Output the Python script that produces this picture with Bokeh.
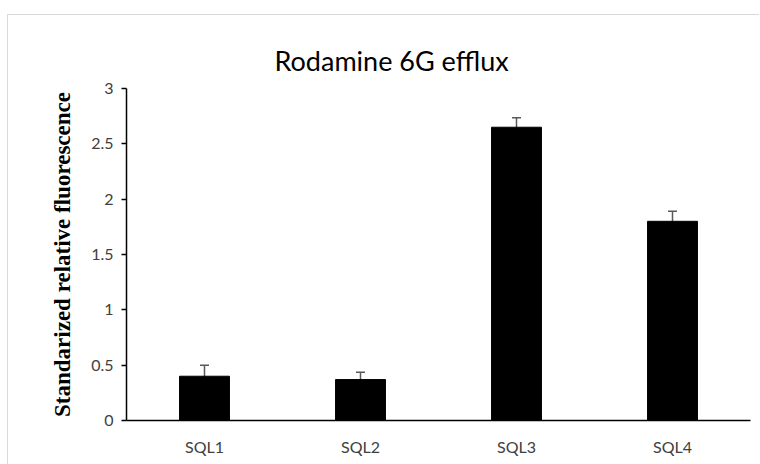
from bokeh.plotting import figure
from bokeh.models import ColumnDataSource, Whisker, FactorRange, Range1d, FixedTicker, Title
from bokeh.embed import file_html
from bokeh.resources import INLINE

categories = ["SQL1", "SQL2", "SQL3", "SQL4"]
values = [0.40, 0.37, 2.65, 1.80]
errors = [0.10, 0.065, 0.085, 0.09]
y_ticks = [0, 0.5, 1, 1.5, 2, 2.5, 3]
y_tick_labels = ["0", "0.5", "1", "1.5", "2", "2.5", "3"]
title_text = "Rodamine 6G efflux"
y_label = "Standarized relative fluorescence"

src = ColumnDataSource(dict(
    cat=categories,
    val=values,
    upper=[v + e for v, e in zip(values, errors)],
    lower=[v - e for v, e in zip(values, errors)],
))

p = figure(width=752, height=450, output_backend="svg", toolbar_location=None,
           x_range=FactorRange(*categories, range_padding=0), y_range=Range1d(0, 3),
           min_border_left=118, min_border_right=10, min_border_top=73, min_border_bottom=45)
p.styles = {"border-top": "1px solid #d9d9d9", "border-left": "1px solid #d9d9d9",
            "margin-top": "14px", "margin-left": "7px"}

p.vbar(x="cat", top="val", width=0.32, source=src, fill_color="black", line_color="black")
w = Whisker(base="cat", upper="upper", lower="lower", source=src,
            line_color="#595959", line_width=1.5)
for head in (w.upper_head, w.lower_head):
    head.size = 9
    head.line_color = "#595959"
    head.line_width = 1.5
p.add_layout(w)

p.grid.visible = False
p.outline_line_color = None

p.yaxis.ticker = FixedTicker(ticks=y_ticks)
p.yaxis.major_label_overrides = {t: l for t, l in zip(y_ticks, y_tick_labels)}
p.yaxis.minor_tick_line_color = None
p.yaxis.major_tick_in = 0
p.yaxis.major_tick_out = 5
p.yaxis.axis_line_width = 1.5
p.yaxis.major_tick_line_width = 1.5
p.yaxis.major_label_text_font = "Lato"
p.yaxis.major_label_text_font_size = "16px"
p.yaxis.major_label_text_color = "#404040"
p.yaxis.major_label_standoff = 8
p.yaxis.axis_label = y_label
p.yaxis.axis_label_text_font = "Liberation Serif"
p.yaxis.axis_label_text_font_style = "bold"
p.yaxis.axis_label_text_font_size = "23px"
p.yaxis.axis_label_text_color = "black"
p.yaxis.axis_label_standoff = 13

p.xaxis.major_tick_line_color = None
p.xaxis.minor_tick_line_color = None
p.xaxis.axis_line_width = 1.5
p.xaxis.major_label_text_font = "Lato"
p.xaxis.major_label_text_font_size = "16px"
p.xaxis.major_label_text_color = "#404040"
p.xaxis.major_label_standoff = 10

t = Title(text=title_text, align="left", offset=148, standoff=24,
          text_font="Lato", text_font_size="27px", text_font_style="normal",
          text_color="black")
p.add_layout(t, "above")

open("out.html", "w").write(file_html(p, INLINE))
